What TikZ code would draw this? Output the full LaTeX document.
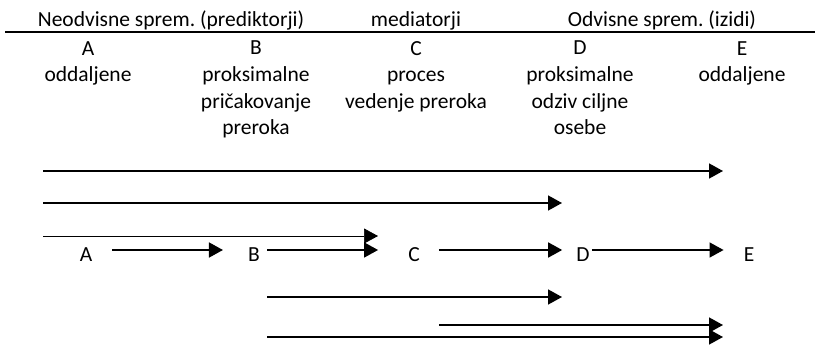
\documentclass[tikz,border=0pt]{standalone}
\usepackage{fontspec}
\setmainfont{Carlito}
\usepackage{tikz}
\usetikzlibrary{arrows.meta}
\frenchspacing

\begin{document}
\begin{tikzpicture}[x=1pt, y=-1pt,
    font=\fontsize{21.5}{26.7}\selectfont,
    arr/.style={line width=1.6pt, -{Triangle[length=14pt, width=15pt]}},
    thinarr/.style={line width=0.7pt, -{Triangle[length=14pt, width=15pt]}}]
    \useasboundingbox (0,0) rectangle (815,345);
    % header
    \node [anchor=base] (neodvisne) at (171,27) {Neodvisne sprem. (prediktorji)};
    \node [anchor=base] (mediatorji) at (416,27) {mediatorji};
    \node [anchor=base] (odvisne) at (662,27) {Odvisne sprem. (izidi)};
    \coordinate (hl) at (5,32);
    \coordinate (hr) at (815,32);
    \draw [line width=1.6pt] (hl) -- (hr);
    % columns (base = last line)
    \node [anchor=base, align=center] (colA) at (88,82) {A\\oddaljene};
    \node [anchor=base, align=center] (colB) at (256,135) {B\\proksimalne\\pričakovanje\\preroka};
    \node [anchor=base, align=center] (colC) at (416,108.5) {C\\proces\\vedenje preroka};
    \node [anchor=base, align=center] (colD) at (580,135) {D\\proksimalne\\odziv ciljne\\osebe};
    \node [anchor=base, align=center] (colE) at (742,82) {E\\oddaljene};
    % letters
    \foreach \n/\x in {a/86, b/254, c/414, d/583, e/749} {
      \node [inner sep=0pt] (\n) at (\x,255) {\MakeUppercase{\n}};
    }
    \draw [arr, shorten <=20pt, shorten >=25pt] ([yshift=5pt]a.east) -- ([yshift=5pt]b.west);
    \draw [arr, shorten <=7pt, shorten >=30pt] ([yshift=5pt]b.east) -- ([yshift=5pt]c.west);
    \draw [arr, shorten <=19pt, shorten >=14pt] ([yshift=5pt]c.east) -- ([yshift=5pt]d.west);
    \draw [arr, shorten <=2pt, shorten >=20pt] ([yshift=5pt]d.east) -- ([yshift=5pt]e.west);
    % long arrows
    \foreach \n/\xa/\xb/\y in {1/43/723/171, 2/43/562/203, 4/267/562/297, 5/439/723/325, 6/267/723/337} {
      \coordinate (s\n) at (\xa,\y);
      \coordinate (t\n) at (\xb,\y);
      \draw [arr] (s\n) -- (t\n);
    }
    \coordinate (s3) at (43,236);
    \coordinate (t3) at (378,236);
    \draw [thinarr] (s3) -- (t3);
\end{tikzpicture}
\end{document}
